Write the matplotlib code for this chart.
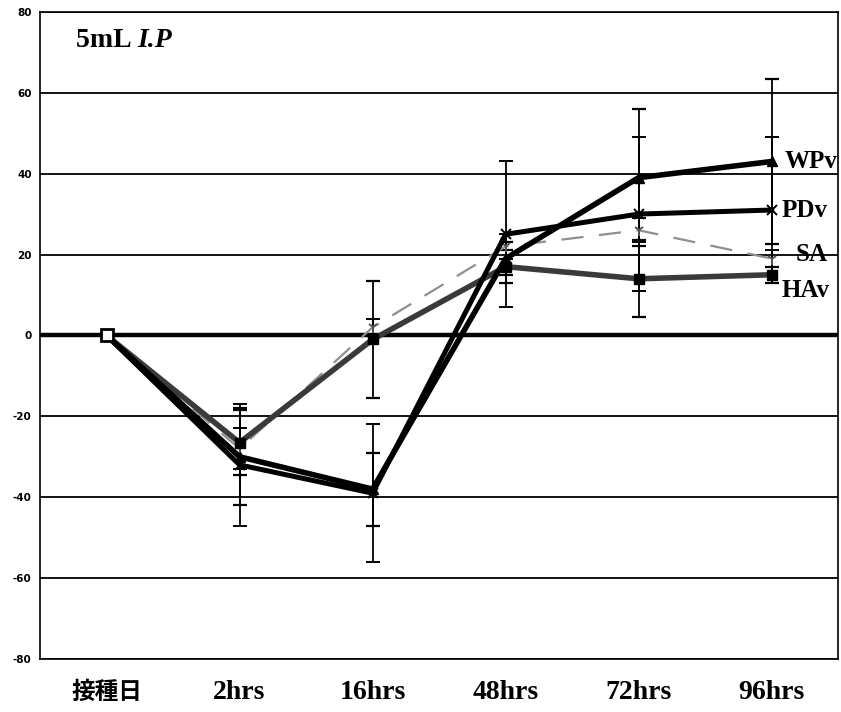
import matplotlib

matplotlib.use("Agg")

import matplotlib.pyplot as plt  # noqa: E402

# --- data ---
categories = ["接種日", "2hrs", "16hrs", "48hrs", "72hrs", "96hrs"]

wpv = [0, -30, -38, 19, 39, 43]
wpv_err = [0, 12, 9, 4, 17, 20.5]

pdv = [0, -32, -39, 25, 30, 31]
pdv_err = [0, 15, 17, 18, 19, 18]

sa = [0, -28, 2, 22, 26, 19]
sa_err = [0, 5, 2, 3, 3, 2]

hav = [0, -26.5, -1, 17, 14, 15]
hav_err = [0, 8, 14.5, 4, 9.5, 2]

yticks = [-80, -60, -40, -20, 0, 20, 40, 60, 80]

series_labels = ["WPv", "PDv", "SA", "HAv"]
label_y = [43, 31, 20, 11]
label_dx = [9, 7, 17, 7]

serif = "Liberation Serif"

fig = plt.figure(figsize=(8.41, 7.12), dpi=100)
ax = fig.add_axes([0.0476, 0.0744, 0.949, 0.909])

x = list(range(len(categories)))

# horizontal grid, zero line drawn heavier
for v in yticks:
    ax.axhline(v, color="black", lw=1.3 if v != 0 else 3.2, zorder=1)

ebar = dict(ecolor="black", elinewidth=1.3, capsize=5, capthick=1.6, zorder=4)

ax.errorbar(x, sa, yerr=sa_err, color="#8f8f8f", lw=1.6, ls=(0, (10, 7)),
            marker="1", ms=8, mec="#555555", mew=1.4, **ebar)
ax.errorbar(x, hav, yerr=hav_err, color="#3a3a3a", lw=4, marker="s", ms=7,
            mfc="black", mec="black", **ebar)
ax.errorbar(x, pdv, yerr=pdv_err, color="black", lw=3.6, marker="x", ms=7,
            mew=1.4, **ebar)
ax.errorbar(x, wpv, yerr=wpv_err, color="black", lw=4, marker="^", ms=7,
            mfc="black", **ebar)

# open marker at day 0
ax.plot([0], [0], marker="s", ms=8, mfc="white", mec="black", mew=2, zorder=6)

for name, yv, dx in zip(series_labels, label_y, label_dx):
    ax.annotate(name, xy=(x[-1], yv), xytext=(dx, 0), textcoords="offset points",
                ha="left", va="center", fontsize=18, fontweight="bold",
                family=serif, zorder=7)

ax.text(0.045, 0.955, "5mL ", transform=ax.transAxes, ha="left", va="center",
        fontsize=20, fontweight="bold", family=serif)
ax.text(0.122, 0.955, "I.P", transform=ax.transAxes, ha="left", va="center",
        fontsize=20, fontweight="bold", fontstyle="italic", family=serif)

ax.set_xlim(-0.5, 5.5)
ax.set_ylim(-80, 80)
ax.set_yticks(yticks)
ax.set_yticklabels([str(v) for v in yticks], fontsize=7.5, fontweight="bold",
                   family="DejaVu Sans")
ax.tick_params(axis="y", length=0, pad=6)

ax.set_xticks(x)
ax.set_xticklabels(categories)
ax.tick_params(axis="x", length=0, pad=15)
for i, lab in enumerate(ax.get_xticklabels()):
    if i == 0:
        lab.set_family(["Noto Sans CJK JP", "DejaVu Sans"])
        lab.set_fontsize(17)
    else:
        lab.set_family(serif)
        lab.set_fontsize(20)
    lab.set_fontweight("bold")

for s in ax.spines.values():
    s.set_linewidth(1.2)
    s.set_color("black")

fig.savefig("out.png", dpi=100)
